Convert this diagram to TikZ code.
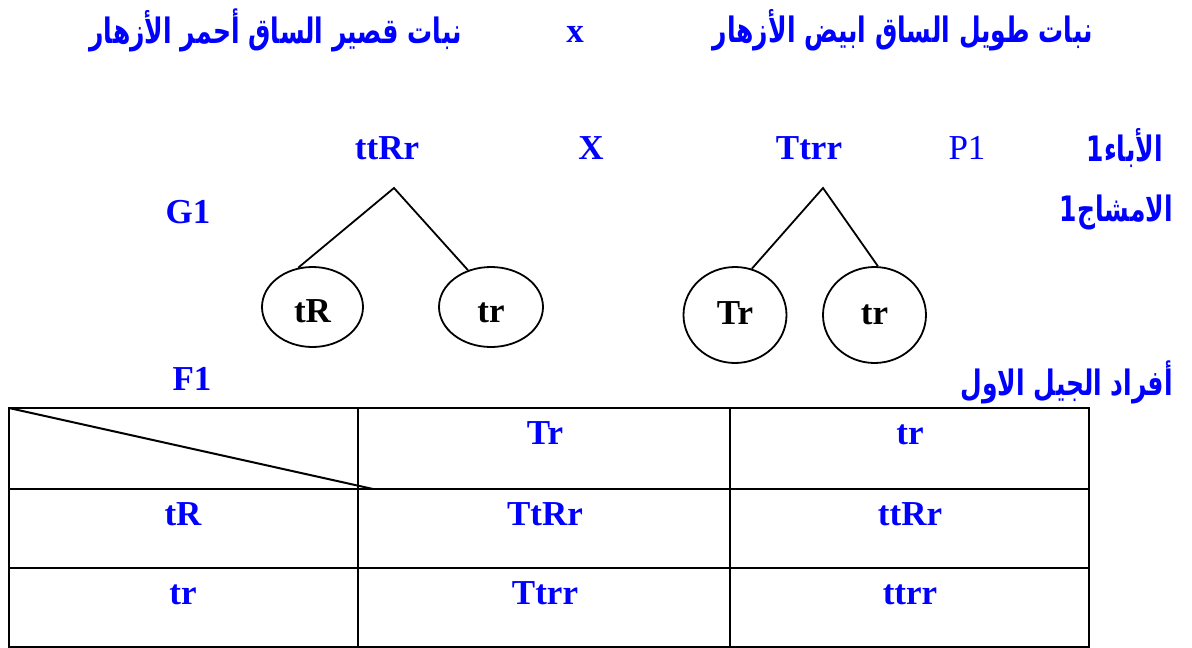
\documentclass[tikz,border=0pt]{standalone}
\usepackage{fontspec}
\setmainfont{Liberation Serif}
\newfontfamily\arabicfont[Script=Arabic]{DejaVu Sans}
\TeXXeTstate=1
\usetikzlibrary{shapes.geometric}
\definecolor{ink}{RGB}{0,0,255}
% Arabic line, set right to left and stretched upward a little
\newcommand{\artext}[1]{\scalebox{1}[1.4]{\beginR #1\endR}}

\begin{document}
\begin{tikzpicture}[x=1pt,y=-1pt,
  lbl/.style={text=ink, font=\fontsize{35}{40}\selectfont\bfseries, inner sep=0pt, anchor=base},
  plain/.style={text=ink, font=\fontsize{35}{40}\selectfont, inner sep=0pt, anchor=base},
  ar/.style={text=ink, font=\arabicfont\fontsize{25}{30}\selectfont\bfseries, inner sep=0pt, anchor=east},
  gamete/.style={ellipse, draw, line width=1.8pt, inner sep=0pt, text depth=0pt,
    font=\fontsize{35}{40}\selectfont\bfseries, text=black},
  branch/.style={line width=1.8pt},
  grid/.style={line width=2.4pt}]
\useasboundingbox (0,0) rectangle (1192,648);

% cross of the two parent plants
\node[ar] (h1) at (1093,30) {\artext{نبات طويل الساق ابيض الأزهار}};
\node[lbl] (cross) at (575,42) {x};
\node[ar] (h2) at (462,30) {\artext{نبات قصير الساق أحمر الأزهار}};

% parents
\node[ar] (parents) at (1163,148) {\artext{الأباء1}};
\node[plain] (p1) at (967,159) {P1};
\node[lbl] (pa) at (809,159) {Ttrr};
\node[lbl] (X) at (591,159) {X};
\node[lbl] (pb) at (387,159) {ttRr};

% gametes
\node[ar] (gam) at (1173,212) {\artext{الامشاج1}};
\node[lbl] (g1) at (188,223) {G1};

\coordinate (apexB) at (394,188);
\coordinate (apexA) at (823,188);
\node[gamete, text height=30pt, minimum width=101pt, minimum height=80pt] (bTR) at (312.5,307) {tR\hspace{8pt}};
\node[gamete, text height=30pt, minimum width=104pt, minimum height=80pt] (btr) at (491,307) {tr\hspace{12pt}};
\node[gamete, text height=18pt, minimum width=103pt, minimum height=96pt] (aTr) at (735,315) {Tr\hspace{2pt}};
\node[gamete, text height=18pt, minimum width=103pt, minimum height=96pt] (atr) at (874.5,315) {tr\hspace{12pt}};

\draw[branch] (bTR.110) -- (apexB) -- (btr.122);
\draw[branch] (aTr.70) -- (apexA) -- (atr.86);

% first generation
\node[ar] (gen) at (1173,382) {\artext{أفراد الجيل الاول}};
\node[lbl] (f1) at (192,390) {F1};

% Punnett square
\draw[grid] (9,408) rectangle (1089,647);
\draw[grid] (9,489) -- (1089,489);
\draw[grid] (9,568) -- (1089,568);
\draw[grid] (358,408) -- (358,647);
\draw[grid] (730,408) -- (730,647);
\draw[line width=2pt] (9,408) -- (373,489);

\node[lbl] (c12) at (545,444) {Tr};
\node[lbl] (c13) at (910,444) {tr};
\node[lbl] (c21) at (183,525) {tR};
\node[lbl] (c22) at (545,525) {TtRr};
\node[lbl] (c23) at (910,525) {ttRr};
\node[lbl] (c31) at (183,604) {tr};
\node[lbl] (c32) at (545,604) {Ttrr};
\node[lbl] (c33) at (910,604) {ttrr};
\end{tikzpicture}
\end{document}
